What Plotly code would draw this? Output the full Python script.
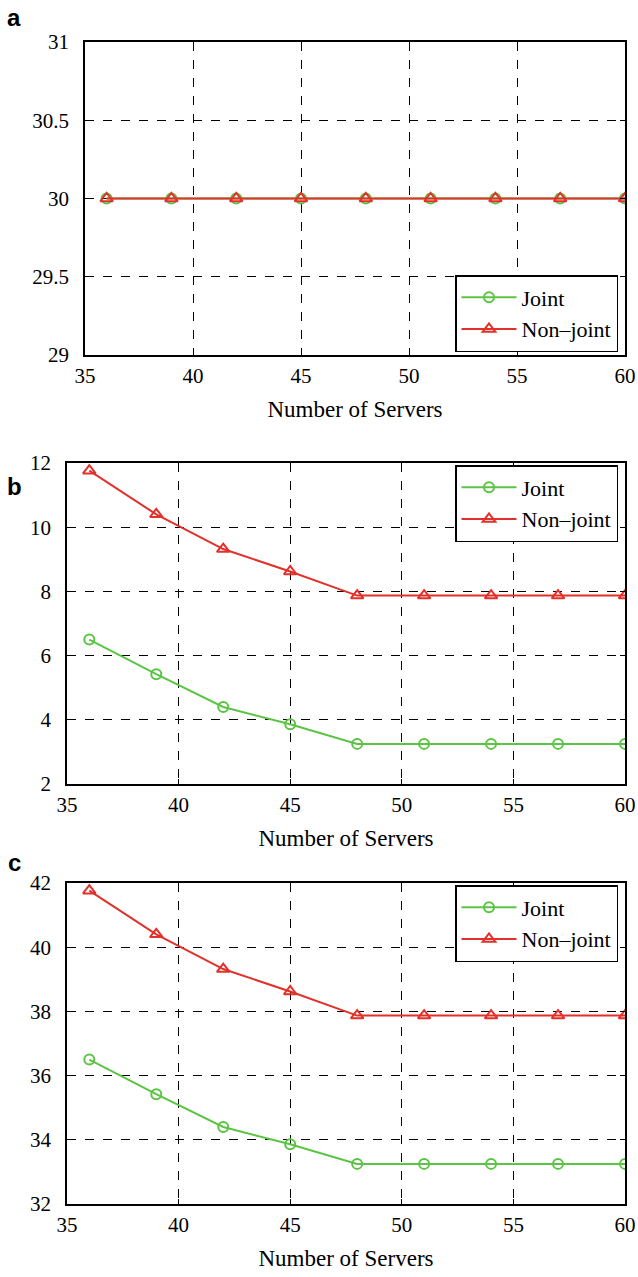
import plotly.graph_objects as go

servers = [36, 39, 42, 45, 48, 51, 54, 57, 60]

a_joint = [30, 30, 30, 30, 30, 30, 30, 30, 30]
a_nonjoint = [30, 30, 30, 30, 30, 30, 30, 30, 30]

b_joint = [6.5, 5.42, 4.4, 3.86, 3.25, 3.25, 3.25, 3.25, 3.25]
b_nonjoint = [11.76, 10.4, 9.32, 8.62, 7.87, 7.87, 7.87, 7.87, 7.87]

c_joint = [36.5, 35.42, 34.4, 33.86, 33.25, 33.25, 33.25, 33.25, 33.25]
c_nonjoint = [41.76, 40.4, 39.32, 38.62, 37.87, 37.87, 37.87, 37.87, 37.87]

x_ticks = [35, 40, 45, 50, 55, 60]
a_yticks = [29, 29.5, 30, 30.5, 31]
b_yticks = [2, 4, 6, 8, 10, 12]
c_yticks = [32, 34, 36, 38, 40, 42]

panel_labels = ["a", "b", "c"]
x_title = "Number of Servers"
names = ["Joint", "Non\u2013joint"]

GREEN = "#5cc445"
RED = "#e2302a"
SERIF = "Liberation Serif"

W, H = 638, 1277

def py(pix):
    return 1 - pix / H

fig = go.Figure()

panels = [
    (a_joint, a_nonjoint, a_yticks, (85, 625), (42, 355), "legend"),
    (b_joint, b_nonjoint, b_yticks, (67, 625), (463, 784), "legend2"),
    (c_joint, c_nonjoint, c_yticks, (67, 625), (883, 1204), "legend3"),
]

for i, (j, nj, yt, (xl, xr), (yt_pix, yb_pix), leg) in enumerate(panels):
    ax = "" if i == 0 else str(i + 1)
    fig.add_trace(go.Scatter(
        x=servers, y=j, name=names[0], mode="lines+markers",
        line=dict(color=GREEN, width=2),
        marker=dict(symbol="circle-open", size=10, color=GREEN, line=dict(width=2)),
        xaxis="x" + ax, yaxis="y" + ax, legend=leg))
    fig.add_trace(go.Scatter(
        x=servers, y=nj, name=names[1], mode="lines+markers",
        line=dict(color=RED, width=2),
        marker=dict(symbol="triangle-up-open", size=11, color=RED, line=dict(width=2)),
        xaxis="x" + ax, yaxis="y" + ax, legend=leg))

    common = dict(
        showline=True, linecolor="black", linewidth=1.5, mirror="ticks",
        showgrid=True, gridcolor="black", gridwidth=1, griddash="dash",
        zeroline=False, ticks="inside", ticklen=5, tickcolor="black",
        tickfont=dict(family=SERIF, size=21, color="black"),
        automargin=False,
    )
    fig.layout["xaxis" + ax] = dict(
        common, domain=[xl / W, xr / W], range=[35, 60],
        tickvals=x_ticks, anchor="y" + ax, ticklabelstandoff=1,
        title=dict(text=x_title, font=dict(family=SERIF, size=23, color="black"),
                   standoff=14),
    )
    fig.layout["yaxis" + ax] = dict(
        common, domain=[py(yb_pix), py(yt_pix)], range=[yt[0], yt[-1]],
        tickvals=yt, ticktext=[("%g" % v) for v in yt], anchor="x" + ax,
        ticklabelstandoff=10,
    )

leg_common = dict(
    bgcolor="white", bordercolor="black", borderwidth=1.5,
    font=dict(family=SERIF, size=22, color="black"),
    xanchor="right", itemwidth=55, tracegroupgap=0,
)
fig.update_layout(
    legend=dict(leg_common, x=618 / W, y=py(352), yanchor="bottom"),
    legend2=dict(leg_common, x=618 / W, y=py(465), yanchor="top"),
    legend3=dict(leg_common, x=618 / W, y=py(885), yanchor="top"),
)

for lab, ypix in zip(panel_labels, [18, 487, 862]):
    fig.add_annotation(
        text="<b>%s</b>" % lab, xref="paper", yref="paper",
        x=14 / W, y=py(ypix), xanchor="center", yanchor="middle",
        showarrow=False,
        font=dict(family="Liberation Sans", size=24, color="black"),
    )

fig.update_layout(
    width=W, height=H, margin=dict(l=0, r=0, t=0, b=0),
    paper_bgcolor="white", plot_bgcolor="white", showlegend=True,
)

fig.write_html("out.html")
